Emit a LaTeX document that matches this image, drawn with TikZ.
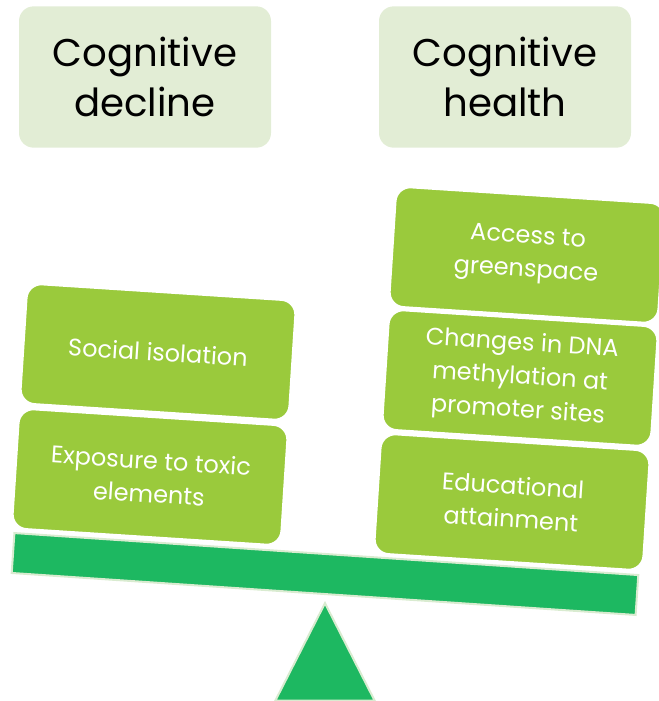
\documentclass[tikz,border=0pt]{standalone}
\usepackage{fontspec}
\setmainfont{Poppins}
\usetikzlibrary{shapes.geometric}
\definecolor{headfill}{HTML}{E2EDD5}
\definecolor{leaf}{HTML}{9ACA3C}
\definecolor{beamgreen}{HTML}{1DB861}
\definecolor{rim}{HTML}{D9EBD0}
\begin{document}
\begin{tikzpicture}
[x=0.75pt,y=-0.75pt,%
  head/.style={shape=rectangle,rounded corners=11pt,fill=headfill,
    minimum width=189pt,minimum height=106pt,align=center,
    font=\fontsize{29}{37}\selectfont},
  factor/.style={shape=rectangle,rounded corners=11pt,fill=leaf,draw=white,
    line width=1.5pt,minimum width=202pt,minimum height=90pt,align=center,
    text=white,font=\fontsize{18}{25}\selectfont,rotate=-3.7}]
\useasboundingbox (0,0) rectangle (659,701);
\clip (0,0) rectangle (659,701);
% headings
\node[head] (decline) at (145,77) {Cognitive\\decline};
\node[head] (health) at (505,77) {Cognitive\\health};
% the beam and its pivot
\node[shape=rectangle,fill=beamgreen,draw=rim,line width=1.5pt,
  minimum width=469pt,minimum height=30pt,rotate=-3.85] (beam) at (325,574) {};
\node[shape=isosceles triangle,isosceles triangle apex angle=54,
  shape border rotate=90,fill=beamgreen,draw=rim,line width=1.5pt,
  minimum height=73pt,inner sep=0pt,anchor=apex] (pivot) at (325,601) {};
% left pan
\node[factor] (social) at (158,352) {Social isolation};
\node[factor] (toxic) at (150,477) {Exposure to toxic\\elements};
% right pan
\node[factor] (green) at (527,255) {Access to\\greenspace};
\node[factor] (dna) at (520,378) {Changes in DNA\\methylation at\\promoter sites};
\node[factor] (edu) at (512,502) {Educational\\attainment};
\end{tikzpicture}
\end{document}
